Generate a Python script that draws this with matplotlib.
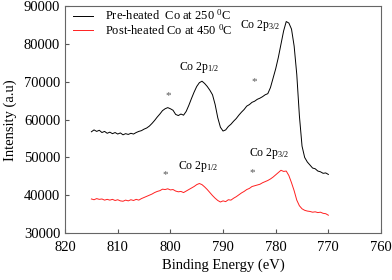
import numpy as np
import matplotlib
matplotlib.use("Agg")
import matplotlib.pyplot as plt

plt.rcParams['font.family'] = ['Liberation Serif', 'DejaVu Serif']
plt.rcParams['mathtext.fontset'] = 'custom'
plt.rcParams['mathtext.rm'] = 'Liberation Serif'
plt.rcParams['mathtext.it'] = 'Liberation Serif'

# binding energy grid (eV), 815 -> 770 in 0.5 eV steps
energy = np.arange(815.0, 769.9, -0.5)

pre_heated = [
    56800, 57300, 56900, 57200, 56600, 56900, 56400, 56700, 56300, 56600,
    56200, 56500, 56000, 56300, 56100, 56400, 56200, 56600, 56900, 57100,
    57500, 57800, 58300, 59000, 59800, 60700, 61500, 62400, 62900, 63200,
    62900, 62500, 61400, 61100, 61500, 61200, 62200, 63800, 65600, 67300,
    68800, 69800, 70200, 69600, 68800, 67800, 66600, 64000, 60500, 58000,
    57000, 57300, 58200, 58800, 59600, 60300, 61200, 62000, 62700, 63600,
    64000, 64600, 64900, 65400, 65700, 66100, 66600, 66900, 68500, 71000,
    73500, 76500, 80000, 83500, 86000, 85600, 84000, 79500, 72000, 61000,
    53000, 50000, 48800, 48000, 47200, 47000, 46400, 46200, 45800, 45900,
    45500,
]

post_heated = [
    39000, 38800, 39100, 38900, 39000, 38700, 38900, 38700, 38900, 38600,
    38800, 38500, 38400, 38700, 38500, 38800, 38600, 38900, 38700, 39100,
    39400, 39700, 40000, 40300, 40700, 41000, 41200, 41600, 41500, 41700,
    41400, 41500, 41100, 40900, 41000, 40700, 41100, 41500, 41900, 42300,
    42800, 43100, 42800, 42200, 41500, 40700, 39900, 39200, 38600, 38200,
    38500, 38300, 38800, 38700, 39200, 39600, 40100, 40600, 41000, 41500,
    41800, 42300, 42500, 42700, 42900, 43300, 43600, 43900, 44300, 44800,
    45400, 46000, 46600, 46300, 46400, 45200, 43300, 41200, 38700, 37200,
    36400, 36000, 35800, 35700, 35500, 35600, 35400, 35500, 35200, 35100,
    34700,
]

# peak labels: (text, x, y)
peak_labels = [
    ('Co 2p$_{1/2}$', 794.5, 73700),
    ('Co 2p$_{3/2}$', 783.0, 84900),
    ('Co 2p$_{1/2}$', 794.8, 47600),
    ('Co 2p$_{3/2}$', 781.3, 51100),
]
satellites = [(800.4, 66500), (784.1, 70100), (801.0, 45400), (784.4, 46100)]

fig = plt.figure(figsize=(3.92, 2.8), dpi=100)
ax = fig.add_axes([0.166, 0.168, 0.806, 0.809])

ax.plot(energy, pre_heated, color='black', lw=0.7, label='Pre-heated  Co at 250 $^{0}$C')
ax.plot(energy, post_heated, color='#ff2020', lw=0.7, label='Post-heated Co at 450 $^{0}$C')

for txt, x, y in peak_labels:
    ax.text(x, y, txt, fontsize=8.5, ha='center', va='center')
for x, y in satellites:
    ax.text(x, y, '*', fontsize=8, color='#555555', ha='center', va='center')

ax.set_xlim(820, 760)
ax.set_ylim(30000, 90000)
ax.set_xticks(np.arange(820, 759, -10))
ax.set_yticks(np.arange(30000, 90001, 10000))
ax.tick_params(direction='in', labelsize=10.5, length=3, color='#555555')
ax.tick_params(axis='x', pad=6)
for s in ax.spines.values():
    s.set_color('#666666')
    s.set_linewidth(0.8)

ax.set_xlabel('Binding Energy (eV)', fontsize=10.5, labelpad=3)
ax.set_ylabel('Intensity (a.u)', fontsize=10.5, labelpad=5)
ax.legend(loc='upper left', frameon=False, fontsize=9, handlelength=1.6,
          borderaxespad=0.0, borderpad=0.15, labelspacing=0.0, handletextpad=0.9,
          bbox_to_anchor=(0.02, 1.0))

fig.savefig('out.png', dpi=100)
